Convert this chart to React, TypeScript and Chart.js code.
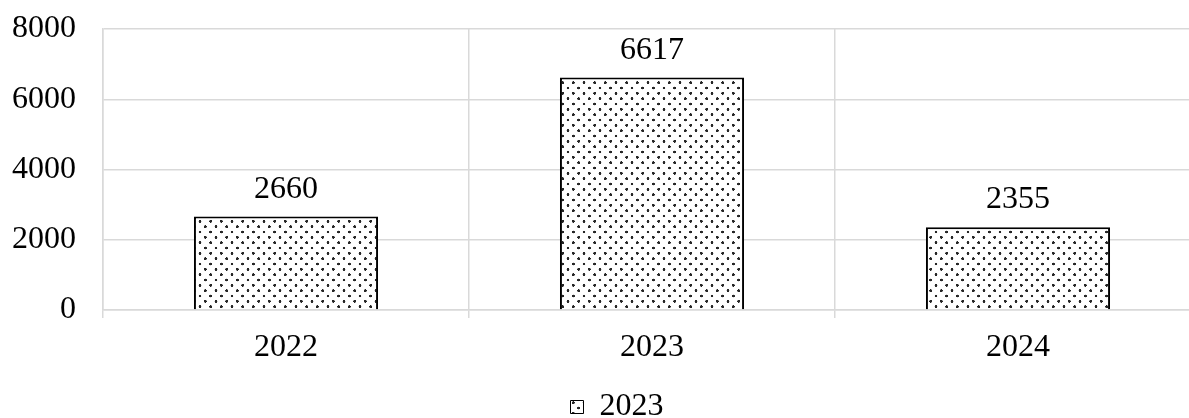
import React, { useEffect, useRef } from "react";
import { Chart, registerables } from "chart.js";

Chart.register(...registerables);

const categories = ["2022", "2023", "2024"];
const values = [2660, 6617, 2355];
const seriesLabel = "2023";
const yMin = 0;
const yMax = 8000;
const yStep = 2000;

const FONT = '"Liberation Serif", "Times New Roman", serif';
const GRID = "#d9d9d9";

function makePattern(ctx: CanvasRenderingContext2D) {
  const c = document.createElement("canvas");
  c.width = 32;
  c.height = 32;
  const g = c.getContext("2d")!;
  g.fillStyle = "#ffffff";
  g.fillRect(0, 0, 32, 32);
  g.fillStyle = "#262626";
  const dots = [
    [8, 8],
    [24, 24],
  ];
  dots.forEach(([x, y]) => {
    g.beginPath();
    g.arc(x, y, 4.3, 0, Math.PI * 2);
    g.fill();
  });
  const p = ctx.createPattern(c, "repeat")!;
  p.setTransform(new DOMMatrix().scale(1 / 3));
  return p;
}

const valueLabels = {
  id: "valueLabels",
  afterDatasetsDraw(chart: any) {
    const ctx = chart.ctx;
    const meta = chart.getDatasetMeta(0);
    ctx.save();
    ctx.font = `32px ${FONT}`;
    ctx.fillStyle = "#000";
    ctx.textAlign = "center";
    ctx.textBaseline = "alphabetic";
    meta.data.forEach((bar: any, i: number) => {
      ctx.fillText(String(values[i]), bar.x, bar.y - 19);
    });
    ctx.restore();
  },
};

export default function App() {
  const ref = useRef<HTMLCanvasElement>(null);
  useEffect(() => {
    const canvas = ref.current!;
    const ctx = canvas.getContext("2d")!;
    const pattern = makePattern(ctx);
    Chart.defaults.font.family = FONT;
    Chart.defaults.color = "#000";
    const chart = new Chart(canvas, {
      type: "bar",
      data: {
        labels: categories,
        datasets: [
          {
            label: seriesLabel,
            data: values,
            backgroundColor: pattern as any,
            borderColor: "#000",
            borderWidth: 2,
            categoryPercentage: 1,
            barPercentage: 0.503,
            yAxisID: "y",
          },
        ],
      },
      options: {
        animation: false,
        responsive: true,
        maintainAspectRatio: false,
        layout: { padding: { top: 29, left: 0, right: 0, bottom: 0 } },
        plugins: {
          tooltip: { enabled: false },
          legend: {
            position: "bottom",
            labels: {
              font: { size: 32, family: FONT },
              color: "#000",
              boxWidth: 13,
              boxHeight: 13,
              padding: 0,
              generateLabels(chart: any) {
                const items = Chart.defaults.plugins.legend.labels.generateLabels(chart);
                return items.map((it: any) => ({ ...it, lineWidth: 1, strokeStyle: "#000" }));
              },
            },
          },
        },
        scales: {
          x: {
            grid: {
              display: true,
              color: GRID,
              lineWidth: 1.5,
              offset: true,
              tickLength: 8,
            },
            border: { display: true, color: GRID, width: 1.5 },
            ticks: { font: { size: 32, family: FONT }, color: "#000", padding: 10 },
            afterFit(s: any) {
              s.height = 81;
            },
          },
          y: {
            min: yMin,
            max: yMax,
            ticks: {
              stepSize: yStep,
              font: { size: 32, family: FONT },
              color: "#000",
              padding: 27,
              callback: (v: any) => String(v),
            },
            grid: { color: GRID, lineWidth: 1.5, drawTicks: false },
            border: { display: true, color: GRID, width: 1.5 },
            afterFit(s: any) {
              s.width = 103;
              s.paddingTop = 0;
              s.paddingBottom = 0;
            },
          },
          yR: {
            type: "linear",
            position: "right",
            display: true,
            grid: { display: false },
            ticks: { display: false },
            border: { display: false },
            afterFit(s: any) {
              s.width = 33;
              s.paddingTop = 0;
              s.paddingBottom = 0;
            },
          },
        },
      },
      plugins: [valueLabels],
    } as any);
    return () => chart.destroy();
  }, []);

  return (
    <div style={{ position: "fixed", left: 0, top: 0, width: 1189, height: 418, overflow: "hidden" }}>
      <div style={{ width: 1234, height: 433, position: "relative" }}>
        <canvas ref={ref} />
      </div>
    </div>
  );
}
